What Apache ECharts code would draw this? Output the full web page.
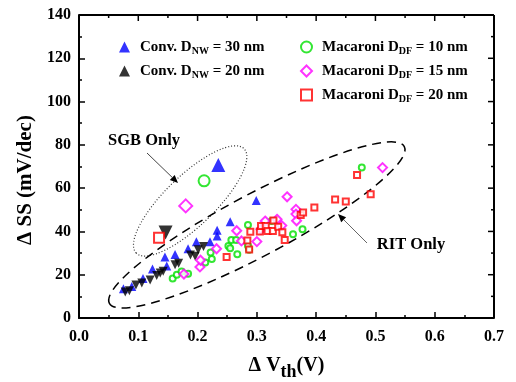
<!DOCTYPE html>
<html>
<head>
<meta charset="utf-8">
<script src="https://cdn.jsdelivr.net/npm/echarts@6/dist/echarts.min.js"></script>
<style>
  html, body { margin: 0; padding: 0; background: #fff; }
  #chart { width: 516px; height: 382px; }
</style>
</head>
<body>
<div id="chart"></div>
<script>
// 数据：[ΔVth (V), ΔSS (mV/dec)]
var convNW30 = [[0.075,13.5],[0.089,14.5],[0.108,18.3],[0.124,22.6],[0.145,28.2],[0.148,24.0],[0.162,29.3],
  [0.184,32.0],[0.198,35.2],[0.221,35.2],[0.233,37.9],[0.233,40.5],[0.255,44.5],[0.299,54.3]];
var convNW20 = [[0.078,12.0],[0.085,12.6],[0.096,15.2],[0.106,16.2],[0.120,17.6],[0.131,19.6],[0.137,20.8],
  [0.142,21.6],[0.162,24.6],[0.168,25.3],[0.188,29.1],[0.196,28.5],[0.201,31.5],[0.210,33.0]];
var macDF10 = [[0.158,18.3],[0.165,20.0],[0.173,21.5],[0.184,20.4],[0.213,25.6],[0.224,27.3],[0.222,30.3],
  [0.252,33.3],[0.255,32.2],[0.257,36.0],[0.265,36.0],[0.267,29.4],[0.285,33.4],[0.287,31.5],[0.285,43.0],
  [0.325,44.8],[0.361,38.7],[0.377,41.0],[0.477,69.5]];
var macDF15 = [[0.177,20.3],[0.204,23.6],[0.205,26.7],[0.232,32.0],[0.266,40.3],[0.274,35.6],[0.300,35.3],
  [0.307,41.0],[0.314,44.8],[0.334,45.6],[0.342,42.7],[0.351,56.0],[0.366,50.2],[0.366,48.0],[0.367,44.9],
  [0.512,69.5]];
var macDF20 = [[0.249,28.2],[0.284,35.8],[0.287,31.7],[0.289,39.8],[0.305,40.0],[0.307,42.5],[0.315,42.5],
  [0.318,40.2],[0.327,40.2],[0.328,45.0],[0.336,42.2],[0.343,39.6],[0.347,36.0],[0.374,47.6],[0.378,48.7],
  [0.397,51.0],[0.432,54.8],[0.450,53.8],[0.469,66.1],[0.492,57.2]];
// SGB 单独（大符号）
var sgbOnly = {
  nw30: [0.235, 70.7],
  nw20: [0.146, 39.5],
  df10: [0.211, 63.4],
  df15: [0.180, 51.8],
  df20: [0.135, 37.1]
};
var xTicks = [0.0, 0.7, 0.1];
var yTicks = [0, 140, 20];

var FONT = '"Liberation Serif", "Times New Roman", serif';

var labels = {
  nw30: '{g|}{a|Conv. D}{s|NW}{a| = 30 nm}',
  nw20: '{g|}{a|Conv. D}{s|NW}{a| = 20 nm}',
  df10: '{g|}{a|Macaroni D}{s|DF}{a| = 10 nm}',
  df15: '{g|}{a|Macaroni D}{s|DF}{a| = 15 nm}',
  df20: '{g|}{a|Macaroni D}{s|DF}{a| = 20 nm}'
};

function withBig(arr, big, size, bw) {
  var d = arr.slice();
  var item = { value: big, symbolSize: size };
  if (bw) item.itemStyle = { borderWidth: bw };
  d.push(item);
  return d;
}

var myChart = echarts.init(document.getElementById('chart'));

var rich = {
  g: { width: 5 },
  a: { fontFamily: FONT, fontWeight: 'bold', fontSize: 15, color: '#000', lineHeight: 18 },
  s: { fontFamily: FONT, fontWeight: 'bold', fontSize: 10, color: '#000', lineHeight: 18, padding: [8, 0, 0, 0] }
};

var axisCommon = {
  show: true,
  axisLine: { show: true, onZero: false, lineStyle: { color: '#000', width: 2 } },
  axisTick: { show: true, inside: true, length: 6, lineStyle: { color: '#000', width: 1.5 } },
  minorTick: { show: true, splitNumber: 2, length: 3, lineStyle: { color: '#000', width: 1.5 } },
  splitLine: { show: false }
};

// 箭头
function arrow(from, to, color) {
  var a = Math.atan2(to[1] - from[1], to[0] - from[0]);
  var L = 8, W = 3.5;
  var bx = to[0] - L * Math.cos(a), by = to[1] - L * Math.sin(a);
  return [
    { type: 'line', shape: { x1: from[0], y1: from[1], x2: bx, y2: by }, style: { stroke: color, lineWidth: 1 } },
    { type: 'polygon', shape: { points: [to,
        [bx + W * Math.sin(a), by - W * Math.cos(a)],
        [bx - W * Math.sin(a), by + W * Math.cos(a)]] }, style: { fill: '#000' } }
  ];
}

// 注释：上/右边框、椭圆、文字、箭头
function renderNotes(params, api) {
  var p0 = api.coord([xTicks[0], yTicks[0]]);
  var p1 = api.coord([xTicks[1], yTicks[1]]);
  var kids = [
    { type: 'line', shape: { x1: p0[0], y1: p1[1], x2: p1[0], y2: p1[1] }, style: { stroke: '#000', lineWidth: 2 } },
    { type: 'line', shape: { x1: p1[0], y1: p1[1], x2: p1[0], y2: p0[1] }, style: { stroke: '#000', lineWidth: 2 } }
  ];
  var i, v, q, len;
  var nx = Math.round((xTicks[1] - xTicks[0]) / (xTicks[2] / 2));
  for (i = 1; i < nx; i++) {
    v = xTicks[0] + i * xTicks[2] / 2;
    q = api.coord([v, yTicks[1]]);
    len = i % 2 === 0 ? 6 : 3;
    kids.push({ type: 'line', shape: { x1: q[0], y1: q[1], x2: q[0], y2: q[1] + len },
      style: { stroke: '#000', lineWidth: 1.5 } });
  }
  var ny = Math.round((yTicks[1] - yTicks[0]) / (yTicks[2] / 2));
  for (i = 1; i < ny; i++) {
    v = yTicks[0] + i * yTicks[2] / 2;
    q = api.coord([xTicks[1], v]);
    len = i % 2 === 0 ? 6 : 3;
    kids.push({ type: 'line', shape: { x1: q[0], y1: q[1], x2: q[0] - len, y2: q[1] },
      style: { stroke: '#000', lineWidth: 1.5 } });
  }

  var c1 = api.coord([0.1875, 54.1]);
  var c2 = api.coord([0.300, 43.0]);
  kids = kids.concat([
    { type: 'ellipse', x: c1[0], y: c1[1], rotation: 44 * Math.PI / 180,
      shape: { cx: 0, cy: 0, rx: 75, ry: 25 },
      style: { fill: 'none', stroke: '#333', lineWidth: 1.2, lineDash: [1, 2] } },
    { type: 'ellipse', x: c2[0], y: c2[1], rotation: 28 * Math.PI / 180,
      shape: { cx: 0, cy: 0, rx: 167, ry: 31 },
      style: { fill: 'none', stroke: '#000', lineWidth: 1.5, lineDash: [9, 6] } },
    { type: 'text', x: 144, y: 141, style: { text: 'SGB Only', font: 'bold 16.5px ' + FONT, fill: '#000',
      align: 'center', verticalAlign: 'middle' } },
    { type: 'text', x: 411, y: 245, style: { text: 'RIT Only', font: 'bold 16.5px ' + FONT, fill: '#000',
      align: 'center', verticalAlign: 'middle' } },
    { type: 'text', x: 26, y: 180, rotation: Math.PI / 2, style: { text: 'Δ SS (mV/dec)', font: 'bold 21px ' + FONT,
      fill: '#000', align: 'center', verticalAlign: 'middle' } }
  ]);
  kids = kids.concat(arrow([147, 153], [178, 183], '#444'), arrow([367, 243], [338, 214], '#666'));
  return { type: 'group', children: kids };
}

var option = {
  animation: false,
  backgroundColor: '#fff',
  grid: { left: 79, right: 22, top: 15, bottom: 64, outerBoundsMode: 'none' },
  xAxis: echarts.util.merge({
    type: 'value', min: xTicks[0], max: xTicks[1], interval: xTicks[2], position: 'bottom',
    axisLabel: { fontFamily: FONT, fontWeight: 'bold', fontSize: 16, color: '#000', margin: 11,
      formatter: function (v) { return v.toFixed(1); } },
    name: '{a|Δ V}{s|th}{a|(V)}', nameLocation: 'middle', nameGap: 36,
    nameTextStyle: { rich: {
      a: { fontFamily: FONT, fontWeight: 'bold', fontSize: 20, color: '#000', lineHeight: 24 },
      s: { fontFamily: FONT, fontWeight: 'bold', fontSize: 18, color: '#000', lineHeight: 24, padding: [12, 0, 0, 0] }
    } }
  }, axisCommon, true),
  yAxis: echarts.util.merge({
    type: 'value', min: yTicks[0], max: yTicks[1], interval: yTicks[2], position: 'left',
    axisLabel: { fontFamily: FONT, fontWeight: 'bold', fontSize: 16, color: '#000', margin: 8 }
  }, axisCommon, true),
  legend: [
    {
      data: ['nw30', 'nw20'], orient: 'vertical', left: 114, top: 33, itemGap: 6,
      itemWidth: 11, itemHeight: 11, selectedMode: false,
      formatter: function (n) { return labels[n]; },
      textStyle: { rich: rich }
    },
    {
      data: ['df10', 'df15', 'df20'], orient: 'vertical', left: 295, top: 33, itemGap: 6,
      itemWidth: 11, itemHeight: 11, selectedMode: false,
      formatter: function (n) { return labels[n]; },
      textStyle: { rich: rich }
    }
  ],
  series: [
    { name: 'notes', type: 'custom', renderItem: renderNotes, data: [[0, 0]], silent: true, clip: false },
    { name: 'nw30', type: 'scatter', symbol: 'triangle', symbolSize: 9,
      itemStyle: { color: '#0000ff' }, data: withBig(convNW30, sgbOnly.nw30, 14) },
    { name: 'nw20', type: 'scatter', symbol: 'triangle', symbolRotate: 180, symbolSize: 9,
      itemStyle: { color: '#000' }, data: withBig(convNW20, sgbOnly.nw20, 14) },
    { name: 'df10', type: 'scatter', symbol: 'emptyCircle', symbolSize: 6,
      itemStyle: { color: '#00e000', borderWidth: 1.5 }, data: withBig(macDF10, sgbOnly.df10, 11, 2.5) },
    { name: 'df15', type: 'scatter', symbol: 'emptyDiamond', symbolSize: 9,
      itemStyle: { color: '#ff00ff', borderWidth: 1.5 }, data: withBig(macDF15, sgbOnly.df15, 13, 2.5) },
    { name: 'df20', type: 'scatter', symbol: 'emptyRect', symbolSize: 6,
      itemStyle: { color: '#ff0000', borderWidth: 1.5 }, data: withBig(macDF20, sgbOnly.df20, 10, 2.5) }
  ]
};

myChart.setOption(option);
</script>
</body>
</html>
